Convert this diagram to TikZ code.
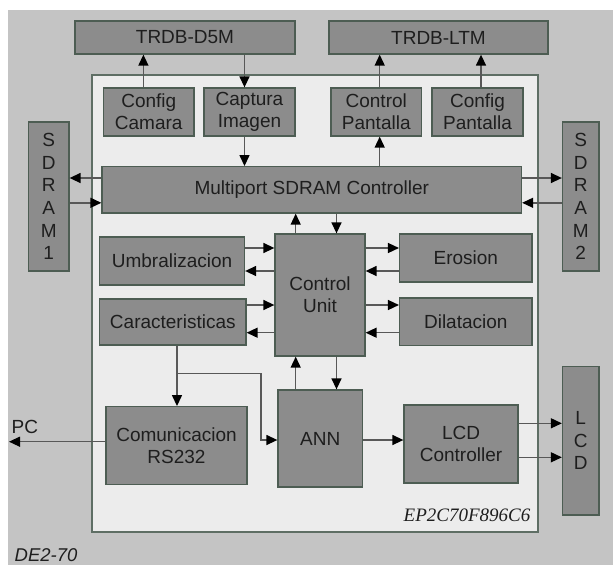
\documentclass[tikz,border=0pt]{standalone}
\usepackage{fontspec}
\setmainfont{Liberation Sans}
\newfontfamily\serifit{Liberation Serif}
\usetikzlibrary{arrows.meta}
\definecolor{bggray}{HTML}{C4C4C4}
\definecolor{innergray}{HTML}{ECECEC}
\definecolor{innerline}{HTML}{5E6E64}
\definecolor{boxfill}{HTML}{8C8C8C}
\definecolor{boxline}{HTML}{4D5D53}
\definecolor{conn}{HTML}{585858}
\definecolor{txt}{HTML}{1E1E1E}
\tikzset{
  blk/.style={draw=boxline, fill=boxfill, line width=1.3pt, inner sep=0pt,
    align=center, text=txt, font=\fontsize{19}{22}\selectfont},
  vblk/.style={blk, font=\fontsize{19}{22.6}\selectfont},
  arr/.style={draw=conn, line width=1.4pt,
    -{Triangle[length=11pt,width=10pt,color=black]}},
  plain/.style={draw=conn, line width=1.4pt}
}
\begin{document}
\begin{tikzpicture}[x=1pt,y=-1pt]
\useasboundingbox (0,0) rectangle (613,565);
\fill[bggray] (8,10) rectangle (613,565);
\draw[innerline, fill=innergray, line width=1.2pt] (92,75) rectangle (538,532);

% top external boxes
\node[blk, minimum width=220, minimum height=33] (trdbd) at (185,37.5) {TRDB-D5M};
\node[blk, minimum width=219, minimum height=33] (trdbl) at (438.5,37.5) {TRDB-LTM};

% row of small boxes
\node[blk, minimum width=90.5, minimum height=48] (cfgcam) at (148.75,112) {Config\\Camara};
\node[blk, minimum width=91, minimum height=48] (captura) at (249.5,112) {Captura\\Imagen};
\node[blk, minimum width=90.5, minimum height=48] (ctrlpan) at (376.25,112) {Control\\Pantalla};
\node[blk, minimum width=91, minimum height=48] (cfgpan) at (477.5,112) {Config\\Pantalla};

% SDRAMs
\node[vblk, minimum width=40.5, minimum height=149] (sdram1) at (48.75,196.5) {S\\D\\R\\A\\M\\1};
\node[vblk, minimum width=36.5, minimum height=149] (sdram2) at (580.75,196.5) {S\\D\\R\\A\\M\\2};

\node[blk, minimum width=419.5, minimum height=46.3] (multi) at (311.75,189.85) {Multiport SDRAM Controller};

\node[blk, minimum width=145, minimum height=48] (umbr) at (172,261) {Umbralizacion};
\node[blk, minimum width=90, minimum height=122] (cu) at (320,295) {Control\\Unit};
\node[blk, minimum width=132.4, minimum height=48] (eros) at (465.8,258) {Erosion};
\node[blk, minimum width=146.4, minimum height=46] (carac) at (172.8,322) {Caracteristicas};
\node[blk, minimum width=132.4, minimum height=47.7] (dila) at (465.8,321.85) {Dilatacion};

\node[blk, minimum width=84.5, minimum height=97] (ann) at (320.25,438.5) {ANN};
\node[blk, minimum width=141, minimum height=78] (com) at (176.5,445.7) {Comunicacion\\RS232};
\node[blk, minimum width=114, minimum height=78] (lcdc) at (461,444) {LCD\\Controller};
\node[vblk, minimum width=36.5, minimum height=148.3] (lcd) at (580.75,440.85) {L\\C\\D};

% labels
\node[text=txt, font=\fontsize{19}{22}\selectfont, inner sep=0pt] (pclbl) at (24.8,426.5) {PC};
\node[text=txt, font=\serifit\itshape\fontsize{19}{22}\selectfont, inner sep=0pt, anchor=base east] (chip) at (530.5,521.7) {EP2C70F896C6};
\node[text=txt, font=\itshape\fontsize{18.5}{22}\selectfont, inner sep=0pt, anchor=base west] (board) at (14.5,561.5) {DE2-70};

% helper coordinates
\coordinate (xa) at (143.4,0);
\coordinate (xb) at (244.5,0);
\coordinate (xc) at (379.7,0);
\coordinate (xd) at (481,0);
\coordinate (xe) at (295.7,0);
\coordinate (xf) at (336.5,0);
\coordinate (xg) at (177,0);
\coordinate (ya) at (0,178);
\coordinate (yb) at (0,202.8);
\coordinate (yc) at (0,248);
\coordinate (yd) at (0,271);
\coordinate (ye) at (0,305);
\coordinate (yf) at (0,332.7);
\coordinate (yg) at (0,423.3);
\coordinate (yh) at (0,457.3);
\coordinate (yi) at (0,440);
\coordinate (br) at (177,373.3);
\coordinate (pc) at (9,441.7);

% top connectors
\draw[arr] (xa |- cfgcam.north) -- (xa |- trdbd.south);
\draw[arr] (xb |- trdbd.south) -- (xb |- captura.north);
\draw[arr] (xb |- captura.south) -- (xb |- multi.north);
\draw[arr] (xc |- multi.north) -- (xc |- ctrlpan.south);
\draw[arr] (xc |- ctrlpan.north) -- (xc |- trdbl.south);
\draw[arr] (xd |- cfgpan.north) -- (xd |- trdbl.south);

% SDRAM connectors
\draw[arr] (multi.west |- ya) -- (sdram1.east |- ya);
\draw[arr] (sdram1.east |- yb) -- (multi.west |- yb);
\draw[arr] (multi.east |- ya) -- (sdram2.west |- ya);
\draw[arr] (sdram2.west |- yb) -- (multi.east |- yb);

% control unit connectors
\draw[arr] (xe |- cu.north) -- (xe |- multi.south);
\draw[arr] (xf |- multi.south) -- (xf |- cu.north);
\draw[arr] (umbr.east |- yc) -- (cu.west |- yc);
\draw[arr] (cu.west |- yd) -- (umbr.east |- yd);
\draw[arr] (carac.east |- ye) -- (cu.west |- ye);
\draw[arr] (cu.west |- yf) -- (carac.east |- yf);
\draw[arr] (cu.east |- yc) -- (eros.west |- yc);
\draw[arr] (eros.west |- yd) -- (cu.east |- yd);
\draw[arr] (cu.east |- ye) -- (dila.west |- ye);
\draw[arr] (dila.west |- yf) -- (cu.east |- yf);
\draw[arr] (xe |- ann.north) -- (xe |- cu.south);
\draw[arr] (xf |- cu.south) -- (xf |- ann.north);

% caracteristicas branch
\draw[arr] (xg |- carac.south) -- (xg |- com.north);
\draw[arr] (br) -| (261,440) -- (ann.west |- yi);

% bottom connectors
\draw[arr] (ann.east |- yi) -- (lcdc.west |- yi);
\draw[arr] (lcdc.east |- yg) -- (lcd.west |- yg);
\draw[arr] (lcdc.east |- yh) -- (lcd.west |- yh);
\draw[arr] (com.west |- pc) -- (pc);
\end{tikzpicture}
\end{document}
